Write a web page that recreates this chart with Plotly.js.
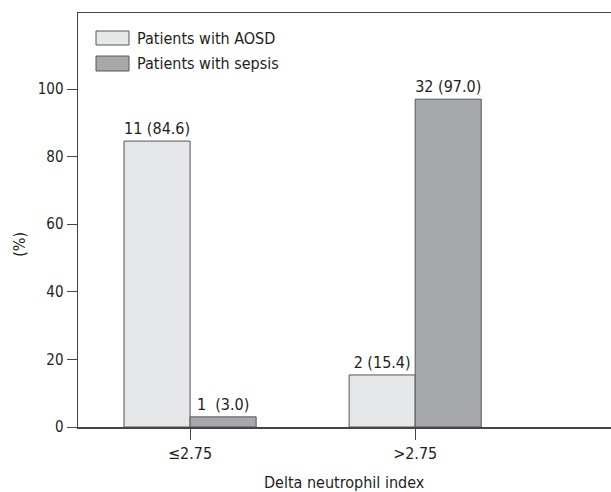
<!DOCTYPE html>
<html>
<head>
<meta charset="utf-8">
<script src="https://cdn.plot.ly/plotly-3.0.1.min.js"></script>
<style>html,body{margin:0;padding:0;background:#fff;}#chart{width:611px;height:492px;}</style>
</head>
<body>
<div id="chart"></div>
<script>
const categories = ["≤2.75", ">2.75"];
const seriesNames = ["Patients with AOSD", "Patients with sepsis"];
const aosdValues = [84.6, 15.4];
const sepsisValues = [3.0, 97.0];
const aosdLabels = ["11 (84.6)", "2 (15.4)"];
const sepsisLabels = ["1\u00a0\u00a0(3.0)", "32 (97.0)"];
const yTicks = [0, 20, 40, 60, 80, 100];

const FONT = "DejaVu Sans Condensed, Liberation Sans Narrow, sans-serif";
const TXT = "#231f20";
const colors = ["#e6e7e8", "#a7a8ab"];
const edge = "#555658";

const traces = [
  {type: "bar", name: seriesNames[0], x: categories, y: aosdValues, text: aosdLabels,
   textposition: "outside", constraintext: "none", cliponaxis: false, showlegend: false,
   textfont: {family: FONT, size: 16, color: TXT},
   marker: {color: colors[0], line: {color: edge, width: 1}}, hoverinfo: "skip"},
  {type: "bar", name: seriesNames[1], x: categories, y: sepsisValues, text: sepsisLabels,
   textposition: "outside", constraintext: "none", cliponaxis: false, showlegend: false,
   textfont: {family: FONT, size: 16, color: TXT},
   marker: {color: colors[1], line: {color: edge, width: 1}}, hoverinfo: "skip"}
];

const legendShapes = [];
const legendAnn = [];
const legY = [[0.9227, 0.9565, 0.9396], [0.8599, 0.8961, 0.8792]];
seriesNames.forEach((n, i) => {
  legendShapes.push({type: "rect", xref: "paper", yref: "paper", x0: 0.0338, x1: 0.0957,
    y0: legY[i][0], y1: legY[i][1], fillcolor: colors[i], line: {color: edge, width: 1}});
  legendAnn.push({xref: "paper", yref: "paper", x: 0.1069, y: legY[i][2], xanchor: "left", yanchor: "middle",
    text: n, showarrow: false, font: {family: FONT, size: 16, color: TXT}});
});

const layout = {
  width: 611, height: 492,
  margin: {l: 78, r: 0, t: 13, b: 65},
  paper_bgcolor: "#fff", plot_bgcolor: "#fff",
  barmode: "group", bargap: 0.413, bargroupgap: 0,
  showlegend: false,
  font: {family: FONT, size: 16, color: TXT},
  xaxis: {
    type: "category", range: [-0.498, 1.87], showgrid: false, zeroline: false,
    showline: true, linecolor: "#444", linewidth: 1.5, mirror: true,
    ticks: "outside", ticklen: 11, tickwidth: 1, tickcolor: "#444",
    tickfont: {family: FONT, size: 16, color: TXT}, fixedrange: true
  },
  yaxis: {
    range: [0, 122.5], tickvals: yTicks, ticktext: yTicks.map(String),
    showgrid: false, zeroline: false,
    showline: true, linecolor: "#444", linewidth: 1.5, mirror: false,
    ticks: "outside", ticklen: 10, tickwidth: 1, tickcolor: "#444",
    tickfont: {family: FONT, size: 15, color: TXT}, fixedrange: true
  },
  shapes: legendShapes,
  annotations: legendAnn.concat([
    {xref: "paper", yref: "paper", x: 0.5, y: 0, yanchor: "top", yshift: -44,
     text: "Delta neutrophil index", showarrow: false, font: {family: FONT, size: 16, color: TXT}},
    {xref: "paper", yref: "paper", x: 0, y: 0.44, xanchor: "center", xshift: -58, textangle: -90,
     text: "(%)", showarrow: false, font: {family: FONT, size: 16, color: TXT}}
  ])
};

Plotly.newPlot("chart", traces, layout, {displayModeBar: false, staticPlot: true});
</script>
</body>
</html>
